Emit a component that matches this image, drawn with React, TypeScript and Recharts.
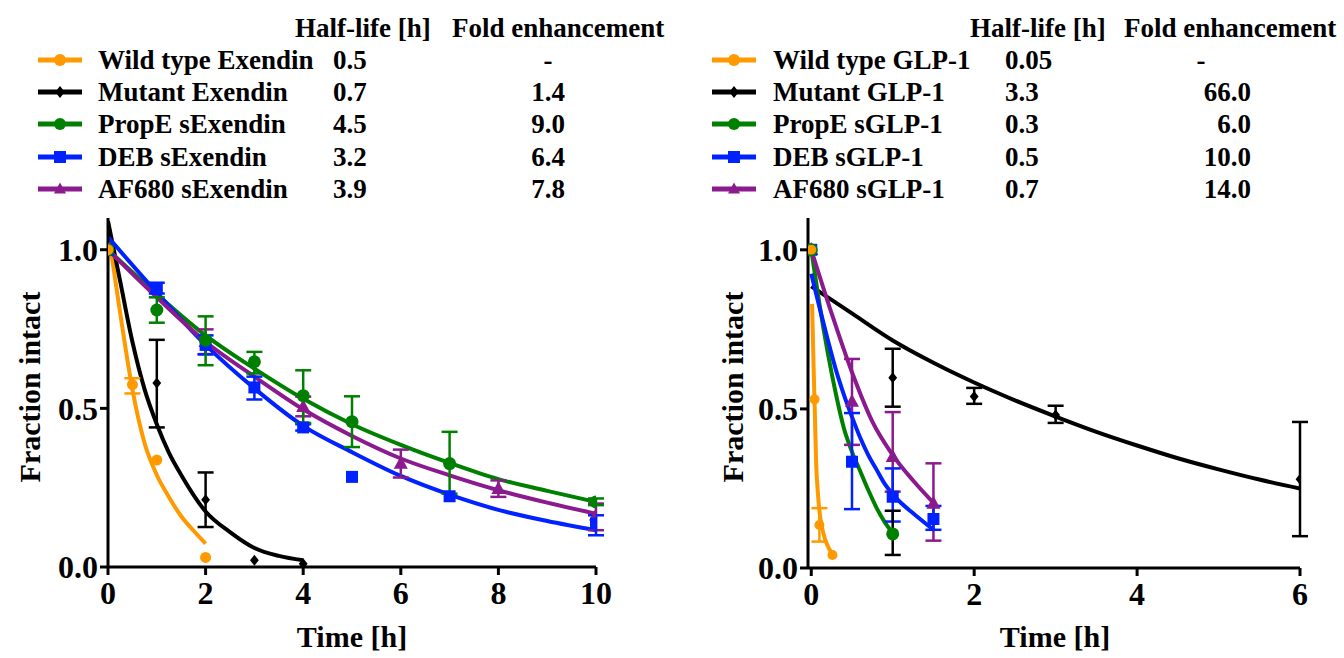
import React from 'react';
import { ComposedChart, Line, Scatter, ErrorBar, XAxis, YAxis } from 'recharts';

const FONT = "'Times New Roman', Times, Tinos, 'Liberation Serif', 'DejaVu Serif', serif";

// colours + marker per series (same order in both panels)
const seriesColors = ['#FF9900', '#000000', '#008000', '#0022FF', '#8B1A8E'];
const seriesMarkers = ['circle', 'diamond', 'circle', 'square', 'triangle'];

// legend table text
const exNames = ['Wild type Exendin', 'Mutant Exendin', 'PropE sExendin', 'DEB sExendin', 'AF680 sExendin'];
const exHalfLife = ['0.5', '0.7', '4.5', '3.2', '3.9'];
const exFold = ['-', '1.4', '9.0', '6.4', '7.8'];
const glpNames = ['Wild type GLP-1', 'Mutant GLP-1', 'PropE sGLP-1', 'DEB sGLP-1', 'AF680 sGLP-1'];
const glpHalfLife = ['0.05', '3.3', '0.3', '0.5', '0.7'];
const glpFold = ['-', '66.0', '6.0', '10.0', '14.0'];

// ticks
const exXTicks = [0, 2, 4, 6, 8, 10];
const glpXTicks = [0, 2, 4, 6];
const yTicks = [0, 0.5, 1.0];

// measured points: [time, fraction, lower, upper]
const exWildPts = [[0, 1.0], [0.5, 0.575, 0.547, 0.595], [1, 0.337], [2, 0.03]];
const exMutantPts = [[0, 1.0], [1, 0.58, 0.44, 0.716], [2, 0.212, 0.126, 0.298], [3, 0.021], [4, 0.01]];
const exPropEPts = [[0, 1.0], [1, 0.81, 0.77, 0.85], [2, 0.715, 0.636, 0.79], [3, 0.647, 0.61, 0.678], [4, 0.54, 0.454, 0.62], [5, 0.458, 0.378, 0.538], [7, 0.326, 0.231, 0.426], [10, 0.205, 0.195, 0.216]];
const exDebPts = [[0, 1.0], [1, 0.878, 0.862, 0.896], [2, 0.7, 0.67, 0.73], [3, 0.566, 0.528, 0.6], [4, 0.44, 0.43, 0.45], [5, 0.284], [7, 0.223], [10, 0.137, 0.1, 0.163]];
const exAfPts = [[0, 1.0], [2, 0.71, 0.671, 0.749], [4, 0.505, 0.475, 0.537], [6, 0.326, 0.282, 0.37], [8, 0.247, 0.221, 0.273], [10, 0.163, 0.116, 0.2]];

const glpWildPts = [[0, 1.0], [0.04, 0.53], [0.1, 0.135, 0.083, 0.188], [0.26, 0.041]];
const glpMutantPts = [[0, 1.0], [1, 0.598, 0.507, 0.689], [2, 0.539, 0.516, 0.566], [3, 0.481, 0.456, 0.51], [6, 0.279, 0.1, 0.459]];
const glpPropEPts = [[0, 1.0], [1, 0.107, 0.041, 0.18]];
const glpDebPts = [[0, 1.0], [0.5, 0.334, 0.185, 0.487], [1, 0.224, 0.146, 0.313], [1.5, 0.154, 0.12, 0.195]];
const glpAfPts = [[0, 1.0], [0.5, 0.523, 0.387, 0.657], [1, 0.35, 0.24, 0.49], [1.5, 0.203, 0.086, 0.329]];

// fitted curves: [time, fraction]
const exWildCurve = [[0, 1.06], [0.25, 0.8], [0.5, 0.56], [0.75, 0.39], [1.0, 0.29], [1.25, 0.22], [1.5, 0.16], [1.75, 0.115], [2.0, 0.074]];
const exMutantCurve = [[0, 1.09], [0.25, 0.9], [0.5, 0.71], [0.75, 0.56], [1.0, 0.45], [1.25, 0.36], [1.5, 0.29], [2.0, 0.175], [2.5, 0.11], [3.0, 0.06], [3.5, 0.035], [4.0, 0.021]];
const exPropECurve = [[0, 1.0], [1, 0.86], [2, 0.73], [3, 0.625], [4, 0.53], [5, 0.45], [6, 0.385], [7, 0.328], [8, 0.277], [9, 0.24], [10, 0.205]];
const exDebCurve = [[0, 1.04], [1, 0.865], [2, 0.7], [3, 0.563], [4, 0.445], [5, 0.362], [6, 0.287], [7, 0.228], [8, 0.18], [9, 0.145], [10, 0.116]];
const exAfCurve = [[0, 1.0], [1, 0.85], [2, 0.71], [3, 0.6], [4, 0.497], [5, 0.413], [6, 0.342], [7, 0.289], [8, 0.242], [9, 0.203], [10, 0.168]];

const glpWildCurve = [[0.01, 0.83], [0.03, 0.62], [0.045, 0.48], [0.06, 0.33], [0.08, 0.24], [0.1, 0.18], [0.13, 0.13], [0.17, 0.09], [0.21, 0.065], [0.26, 0.044]];
const glpMutantCurve = [[0, 0.885], [0.5, 0.8], [1, 0.715], [1.5, 0.645], [2, 0.583], [2.5, 0.527], [3, 0.476], [3.5, 0.428], [4, 0.385], [4.5, 0.345], [5, 0.31], [5.5, 0.278], [6, 0.25]];
const glpPropECurve = [[0, 1.0], [0.1, 0.83], [0.2, 0.68], [0.3, 0.55], [0.4, 0.44], [0.5, 0.365], [0.6, 0.305], [0.7, 0.245], [0.8, 0.19], [0.9, 0.145], [1.0, 0.11]];
const glpDebCurve = [[0, 0.925], [0.1, 0.82], [0.2, 0.72], [0.3, 0.625], [0.4, 0.545], [0.5, 0.475], [0.6, 0.41], [0.7, 0.355], [0.8, 0.31], [0.9, 0.265], [1.0, 0.232], [1.1, 0.205], [1.25, 0.172], [1.5, 0.12]];
const glpAfCurve = [[0, 1.0], [0.25, 0.8], [0.5, 0.615], [0.75, 0.46], [1.0, 0.355], [1.25, 0.275], [1.5, 0.205]];

const toPts = (arr: number[][]) =>
  arr.map(([x, y, lo, hi]) => ({ x, y, err: lo == null ? undefined : [y - lo, hi - y] }));
const toCurve = (arr: number[][]) => arr.map(([x, y]) => ({ x, y }));

const Marker = ({ kind, cx, cy, color, s }: any) => {
  if (cx == null || cy == null) return null;
  const h = s / 2;
  if (kind === 'square') return <rect x={cx - h} y={cy - h} width={s} height={s} fill={color} />;
  if (kind === 'diamond')
    return <polygon points={`${cx},${cy - h} ${cx + h * 0.8},${cy} ${cx},${cy + h} ${cx - h * 0.8},${cy}`} fill={color} />;
  if (kind === 'triangle')
    return <polygon points={`${cx},${cy - h * 1.1} ${cx + h},${cy + h * 0.75} ${cx - h},${cy + h * 0.75}`} fill={color} />;
  return <circle cx={cx} cy={cy} r={h} fill={color} />;
};

const tickStyle = { fontSize: 32, fontWeight: 'bold', fill: '#000', fontFamily: FONT };
const axisStroke = { stroke: '#000', strokeWidth: 3 };

interface PanelProps {
  curves: number[][][];
  points: number[][][];
  xDomain: [number, number];
  xTicks: number[];
  margin: any;
  sizes: number[];
  errColors: string[];
}

const Panel = ({ curves, points, xDomain, xTicks, margin, sizes, errColors }: PanelProps) => {
  // wild type drawn last so its marker sits on top at t=0
  const order = [4, 3, 2, 1, 0];
  return (
    <ComposedChart width={672} height={658} margin={margin} style={{ fontFamily: FONT }}>
      <XAxis
        type="number"
        dataKey="x"
        domain={xDomain}
        ticks={xTicks}
        allowDataOverflow
        height={margin.xh}
        tick={tickStyle}
        tickSize={8}
        tickMargin={6}
        axisLine={axisStroke}
        tickLine={axisStroke}
      />
      <YAxis
        type="number"
        dataKey="y"
        domain={[0, 1.1]}
        ticks={yTicks}
        allowDataOverflow
        width={100}
        tick={tickStyle}
        tickSize={8}
        tickMargin={2}
        tickFormatter={(v: number) => v.toFixed(1)}
        axisLine={axisStroke}
        tickLine={axisStroke}
      />
      {curves.map((c, i) => (
        <Line
          key={`c${i}`}
          data={toCurve(c)}
          dataKey="y"
          type="monotone"
          stroke={seriesColors[i]}
          strokeWidth={4}
          dot={false}
          activeDot={false}
          isAnimationActive={false}
        />
      ))}
      {order.map((i) => (
        <Scatter
          key={`p${i}`}
          data={toPts(points[i])}
          dataKey="y"
          isAnimationActive={false}
          shape={(props: any) => (
            <Marker kind={seriesMarkers[i]} cx={props.cx} cy={props.cy} color={seriesColors[i]} s={sizes[i]} />
          )}
        >
          <ErrorBar dataKey="err" direction="y" width={8} strokeWidth={2.5} stroke={errColors[i]} />
        </Scatter>
      ))}
    </ComposedChart>
  );
};

const txt: React.CSSProperties = {
  position: 'absolute',
  fontFamily: FONT,
  fontWeight: 'bold',
  fontSize: 27,
  color: '#000',
  whiteSpace: 'nowrap',
  lineHeight: '32px',
  height: 32,
};

const rowY = [44, 76, 108, 141, 173];

const LegendTable = ({ names, halfLife, fold, iconX, labelX, hlX, hdrHlX, hdrFoldX, foldX, foldAlign }: any) => (
  <>
    <div style={{ ...txt, left: hdrHlX, top: 12 }}>Half-life [h]</div>
    <div style={{ ...txt, left: hdrFoldX, top: 12 }}>Fold enhancement</div>
    {names.map((n: string, i: number) => (
      <React.Fragment key={n}>
        <svg style={{ position: 'absolute', left: iconX, top: rowY[i] + 4 }} width={48} height={24}>
          <line x1={2} y1={12} x2={46} y2={12} stroke={seriesColors[i]} strokeWidth={5} />
          <Marker kind={seriesMarkers[i]} cx={24} cy={12} color={seriesColors[i]} s={12} />
        </svg>
        <div style={{ ...txt, left: labelX, top: rowY[i] }}>{n}</div>
        <div style={{ ...txt, left: hlX, top: rowY[i] }}>{halfLife[i]}</div>
        <div
          style={{
            ...txt,
            left: foldAlign === 'right' ? foldX - 100 : foldX - 50,
            width: 100,
            textAlign: fold[i] === '-' ? 'center' : foldAlign,
            ...(fold[i] === '-' && foldAlign === 'right' ? { left: foldX - 75, width: 50 } : {}),
            top: rowY[i],
          }}
        >
          {fold[i]}
        </div>
      </React.Fragment>
    ))}
  </>
);

const axisTitle: React.CSSProperties = {
  position: 'absolute',
  fontFamily: FONT,
  fontWeight: 'bold',
  fontSize: 30,
  whiteSpace: 'nowrap',
  color: '#000',
};

export default function App() {
  return (
    <div style={{ position: 'absolute', left: 0, top: 0, width: 1344, height: 658, background: '#fff', overflow: 'hidden', fontFamily: FONT }}>
      <div style={{ position: 'absolute', left: 0, top: 0 }}>
        <Panel
          curves={[exWildCurve, exMutantCurve, exPropECurve, exDebCurve, exAfCurve]}
          points={[exWildPts, exMutantPts, exPropEPts, exDebPts, exAfPts]}
          xDomain={[0, 10]}
          xTicks={exXTicks}
          margin={{ top: 218, right: 76, bottom: 0, left: 8, xh: 91 }}
          sizes={[11, 11, 13, 12, 14]}
          errColors={seriesColors}
        />
      </div>
      <div style={{ position: 'absolute', left: 672, top: 0 }}>
        <Panel
          curves={[glpWildCurve, glpMutantCurve, glpPropECurve, glpDebCurve, glpAfCurve]}
          points={[glpWildPts, glpMutantPts, glpPropEPts, glpDebPts, glpAfPts]}
          xDomain={[-0.04, 6]}
          xTicks={glpXTicks}
          margin={{ top: 218, right: 44, bottom: 0, left: 36, xh: 90 }}
          sizes={[10, 11, 13, 12, 14]}
          errColors={['#FF9900', '#000000', '#000000', '#0022FF', '#8B1A8E']}
        />
      </div>

      <LegendTable
        names={exNames}
        halfLife={exHalfLife}
        fold={exFold}
        iconX={36}
        labelX={98}
        hlX={333}
        hdrHlX={295}
        hdrFoldX={452}
        foldX={548}
        foldAlign="center"
      />
      <LegendTable
        names={glpNames}
        halfLife={glpHalfLife}
        fold={glpFold}
        iconX={710}
        labelX={773}
        hlX={1005}
        hdrHlX={970}
        hdrFoldX={1124}
        foldX={1251}
        foldAlign="right"
      />

      <div style={{ ...axisTitle, left: 30, top: 387, transform: 'translate(-50%, -50%) rotate(-90deg)' }}>Fraction intact</div>
      <div style={{ ...axisTitle, left: 733, top: 387, transform: 'translate(-50%, -50%) rotate(-90deg)' }}>Fraction intact</div>
      <div style={{ ...axisTitle, left: 352, top: 637, transform: 'translate(-50%, -50%)' }}>Time [h]</div>
      <div style={{ ...axisTitle, left: 1055, top: 637, transform: 'translate(-50%, -50%)' }}>Time [h]</div>
    </div>
  );
}
